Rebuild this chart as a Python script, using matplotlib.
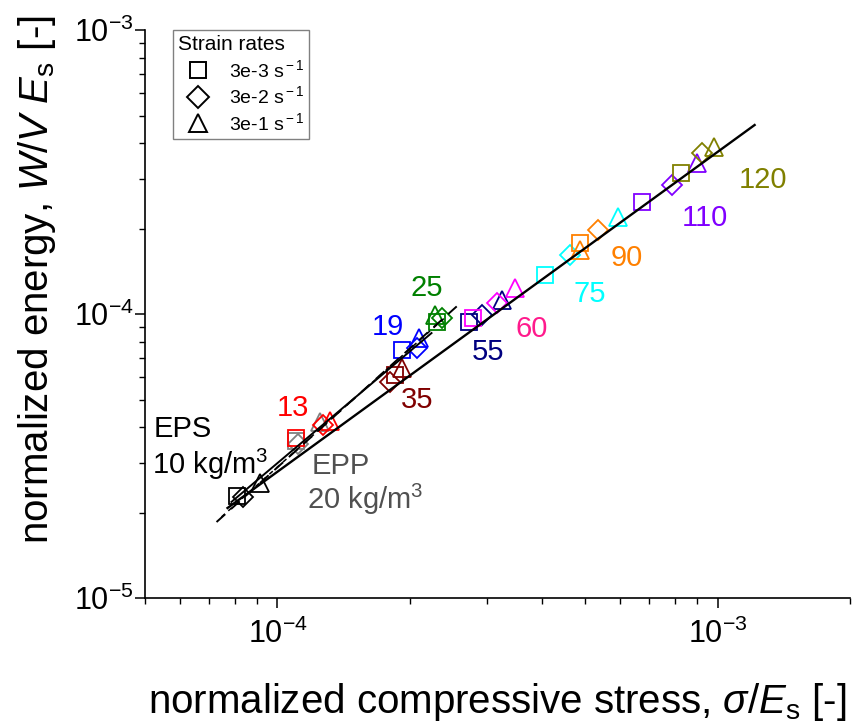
import matplotlib
matplotlib.use("Agg")
import numpy as np
from matplotlib import pyplot as plt
from matplotlib.lines import Line2D
from matplotlib.ticker import LogLocator, NullFormatter

# Plot parameters
params = {
    "font.family": "Liberation Sans",
    "mathtext.fontset": "custom",
    "mathtext.rm": "Liberation Sans",
    "mathtext.it": "Liberation Sans:italic",
    "mathtext.bf": "Liberation Sans:bold",
    "axes.linewidth": 1.2,
    "xtick.direction": "out",
    "ytick.direction": "out",
    "xtick.major.size": 7,
    "ytick.major.size": 7,
    "xtick.minor.size": 4,
    "ytick.minor.size": 4,
    "xtick.major.width": 1.1,
    "ytick.major.width": 1.1,
    "xtick.minor.width": 1.0,
    "ytick.minor.width": 1.0,
}
matplotlib.rcParams.update(params)

# ------------------------------------------------------
# Data: (stress, energy) for strain rates 3e-3, 3e-2, 3e-1 1/s
groups = ["EPS10", "EPP20", "13", "35", "19", "25", "55", "60", "75", "90", "110", "120"]
colors = ["black", "#808080", "#ff0000", "#800000", "#0000ff", "#008000",
          "#000080", "#ff00ff", "#00ffff", "#ff8000", "#8000ff", "#808000"]

stress_sq = [8.11e-5, 1.10e-4, 1.10e-4, 1.854e-4, 1.923e-4, 2.31e-4,
             2.73e-4, 2.775e-4, 4.045e-4, 4.86e-4, 6.75e-4, 8.28e-4]
energy_sq = [2.29e-5, 3.57e-5, 3.66e-5, 6.10e-5, 7.47e-5, 9.37e-5,
             9.37e-5, 9.68e-5, 1.372e-4, 1.78e-4, 2.48e-4, 3.14e-4]

stress_di = [8.33e-5, 1.116e-4, 1.272e-4, 1.80e-4, 2.07e-4, 2.36e-4,
             2.91e-4, 3.147e-4, 4.61e-4, 5.34e-4, 7.86e-4, 9.20e-4]
energy_di = [2.27e-5, 3.49e-5, 4.07e-5, 5.76e-5, 7.59e-5, 9.68e-5,
             9.92e-5, 1.093e-4, 1.614e-4, 1.98e-4, 2.85e-4, 3.69e-4]

stress_tr = [9.15e-5, 1.252e-4, 1.313e-4, 1.923e-4, 2.10e-4, 2.286e-4,
             3.23e-4, 3.457e-4, 5.925e-4, 4.86e-4, 9.0e-4, 9.84e-4]
energy_tr = [2.54e-5, 4.17e-5, 4.20e-5, 6.45e-5, 8.23e-5, 9.92e-5,
             1.12e-4, 1.235e-4, 2.195e-4, 1.68e-4, 3.40e-4, 3.87e-4]

# fit lines: (x start, x end), (y start, y end)
fit_all_x = [7.70e-5, 1.214e-3]
fit_all_y = [2.075e-5, 4.63e-4]
fit_low_x = [7.86e-5, 2.239e-4]
fit_low_y = [2.18e-5, 8.57e-5]
fit_dash_x = [7.27e-5, 2.62e-4]
fit_dash_y = [1.852e-5, 1.102e-4]
fit_dash2_x = [7.46e-5, 2.396e-4]
fit_dash2_y = [1.93e-5, 9.68e-5]

# text labels
label_text = ["EPS", "10 kg/m$^3$", "EPP", "20 kg/m$^3$", "13", "19", "25", "35",
              "55", "60", "75", "90", "110", "120"]
label_color = ["black", "black", "#505050", "#505050", "#ff0000", "#0000ff",
               "#008000", "#800000", "#000080", "#ff1a8c", "#00ffff",
               "#ff8000", "#8000ff", "#808000"]
# positions in axes fraction
label_pos = [(0.053, 0.298), (0.093, 0.236), (0.277, 0.233), (0.312, 0.174),
             (0.21, 0.335), (0.345, 0.478), (0.4, 0.546), (0.386, 0.348),
             (0.487, 0.433), (0.549, 0.474), (0.631, 0.536), (0.684, 0.599),
             (0.794, 0.669), (0.876, 0.736)]
# ------------------------------------------------------

fig = plt.figure(figsize=(8.6, 7.22), dpi=100)
ax = fig.add_axes([0.1686, 0.1717, 0.8198, 0.7867])

ms = 11
mew = 1.3
for i in range(len(groups)):
    c = colors[i]
    ax.plot(stress_sq[i], energy_sq[i], "s", ms=ms, mfc="none", mec=c, mew=mew)
    ax.plot(stress_di[i], energy_di[i], "D", ms=ms * 0.95, mfc="none", mec=c, mew=mew)
    ax.plot(stress_tr[i], energy_tr[i], "^", ms=ms * 1.15, mfc="none", mec=c, mew=mew)

ax.plot(fit_all_x, fit_all_y, "-", color="black", lw=1.7)
ax.plot(fit_low_x, fit_low_y, "-", color="black", lw=1.4)
ax.plot(fit_dash_x, fit_dash_y, color="black", lw=1.4, dashes=(6, 4))
ax.plot(fit_dash2_x, fit_dash2_y, color="black", lw=1.1, dashes=(3, 3))

for t, c, p in zip(label_text, label_color, label_pos):
    ax.text(p[0], p[1], t, color=c, fontsize=21, transform=ax.transAxes,
            ha="center", va="center")

ax.set_xscale("log")
ax.set_yscale("log")
ax.set_xlim(5e-5, 2e-3)
ax.set_ylim(1e-5, 1e-3)

ax.xaxis.set_minor_locator(LogLocator(base=10, subs=np.arange(2, 10)))
ax.yaxis.set_minor_locator(LogLocator(base=10, subs=np.arange(2, 10)))
ax.xaxis.set_minor_formatter(NullFormatter())
ax.yaxis.set_minor_formatter(NullFormatter())
ax.tick_params(axis="x", which="major", labelsize=22, pad=8)
ax.tick_params(axis="y", which="major", labelsize=22, pad=1)

ax.spines["top"].set_visible(False)
ax.spines["right"].set_visible(False)

ax.set_xlabel(r"normalized compressive stress, $\it{\sigma}$/$\it{E}_{\rm s}$ [-]",
              fontsize=29, labelpad=22)
ax.set_ylabel(r"normalized energy, $\it{W/V}$ $\it{E}_{\rm s}$ [-]",
              fontsize=29)
ax.yaxis.set_label_coords(-0.123, 0.56)

handles = [
    Line2D([], [], ls="none", marker="s", ms=11, mfc="none", mec="black", mew=1.4),
    Line2D([], [], ls="none", marker="D", ms=11, mfc="none", mec="black", mew=1.4),
    Line2D([], [], ls="none", marker="^", ms=13, mfc="none", mec="black", mew=1.4),
]
leg = ax.legend(handles, [r"3e-3 s$^{\rm -1}$", r"3e-2 s$^{\rm -1}$", r"3e-1 s$^{\rm -1}$"],
                title="Strain rates", loc="upper left", bbox_to_anchor=(0.04, 1.0),
                fontsize=14, title_fontsize=15, fancybox=False, framealpha=1,
                edgecolor="#808080", borderpad=0.25, handletextpad=0.6,
                labelspacing=0.25, alignment="left", borderaxespad=0.0)
leg.get_frame().set_linewidth(1.0)

plt.savefig("out.png", dpi=100)
